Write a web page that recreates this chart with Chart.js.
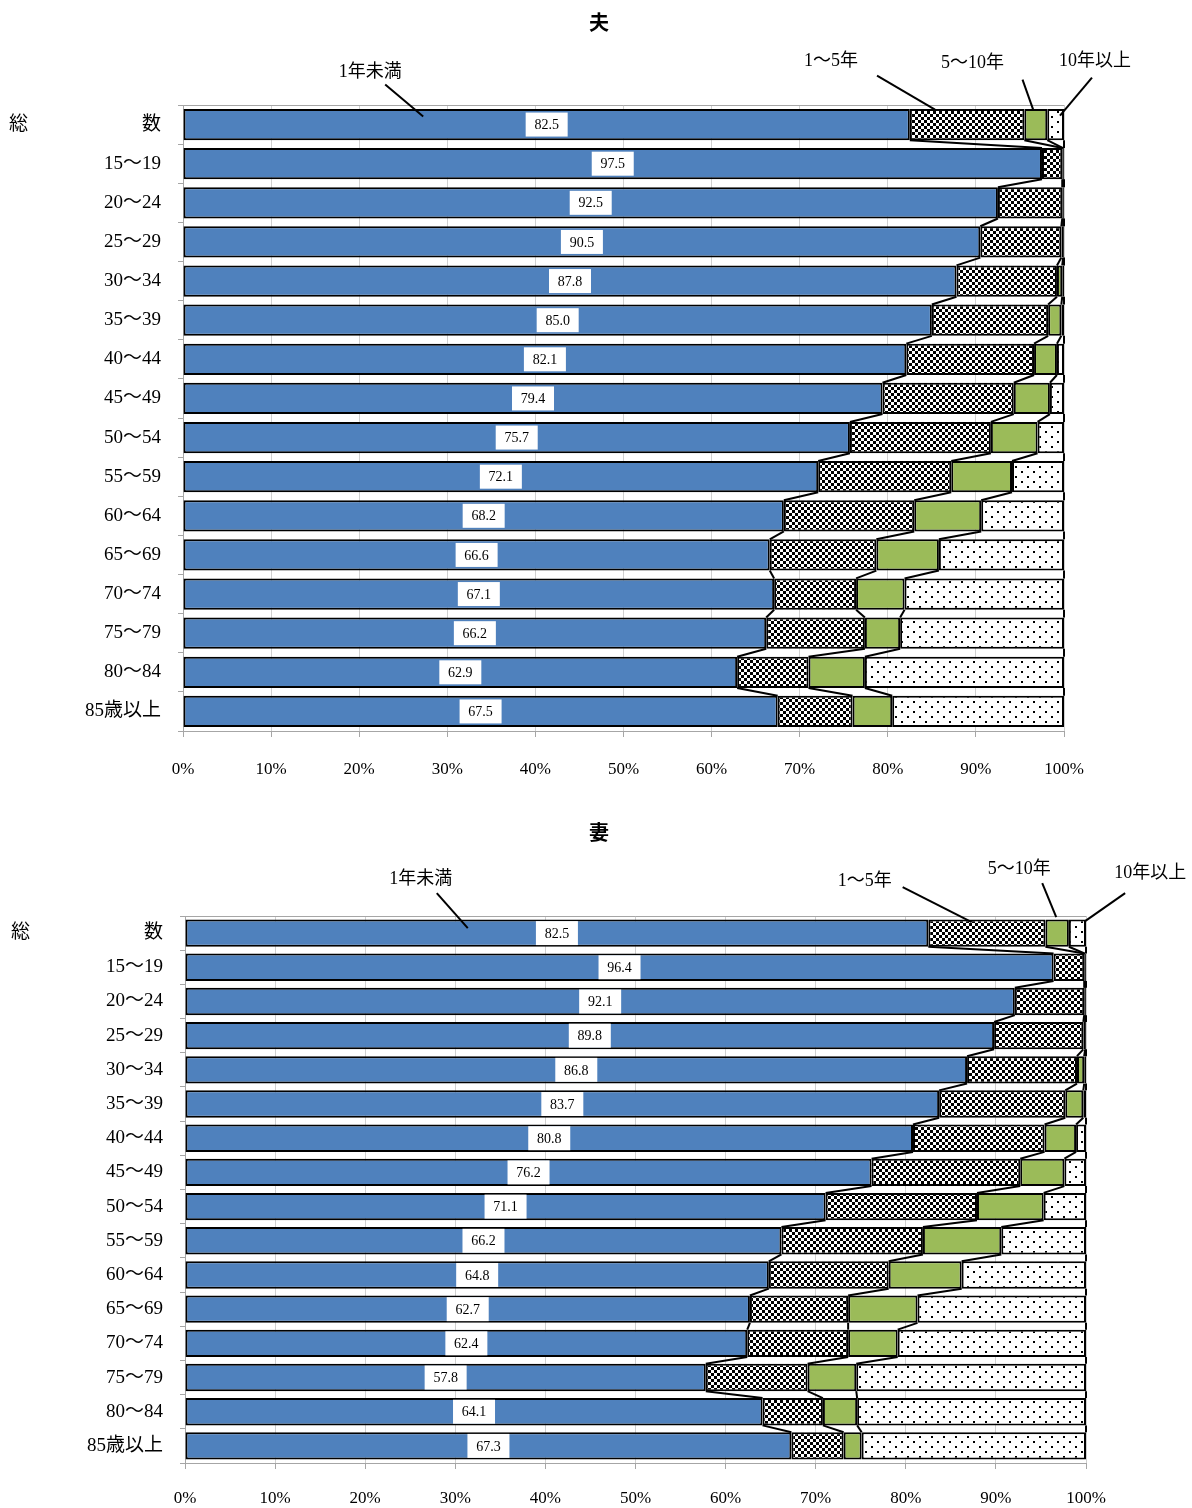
<!DOCTYPE html>
<html>
<head>
<meta charset="utf-8">
<script src="https://cdn.jsdelivr.net/npm/chart.js@4/dist/chart.umd.min.js"></script>
<style>
  body { margin: 0; background: #fff; }
  .box { position: relative; width: 1192px; }
</style>
</head>
<body>
<div class="box" style="height:800px"><canvas id="husbandChart" width="1192" height="800"></canvas></div>
<div class="box" style="height:708px"><canvas id="wifeChart" width="1192" height="708"></canvas></div>
<script>
// data
const categories = ['総　　　　　　数', '15～19', '20～24', '25～29', '30～34', '35～39', '40～44', '45～49',
  '50～54', '55～59', '60～64', '65～69', '70～74', '75～79', '80～84', '85歳以上'];
const seriesNames = ['1年未満', '1～5年', '5～10年', '10年以上'];
const xTicks = [0, 10, 20, 30, 40, 50, 60, 70, 80, 90, 100];

// 夫
const husbandUnder1 = [82.5, 97.5, 92.5, 90.5, 87.8, 85.0, 82.1, 79.4, 75.7, 72.1, 68.2, 66.6, 67.1, 66.2, 62.9, 67.5];
const husband1to5   = [13.0, 2.3, 7.3, 9.2, 11.4, 13.2, 14.5, 14.9, 16.0, 15.1, 14.8, 12.1, 9.3, 11.2, 8.1, 8.5];
const husband5to10  = [2.6, 0.1, 0.1, 0.2, 0.6, 1.5, 2.6, 4.1, 5.3, 6.9, 7.6, 7.1, 5.5, 4.0, 6.4, 4.5];
const husbandOver10 = [1.9, 0.1, 0.1, 0.1, 0.2, 0.3, 0.8, 1.6, 3.0, 5.9, 9.4, 14.2, 18.1, 18.6, 22.6, 19.5];

// 妻
const wifeUnder1 = [82.5, 96.4, 92.1, 89.8, 86.8, 83.7, 80.8, 76.2, 71.1, 66.2, 64.8, 62.7, 62.4, 57.8, 64.1, 67.3];
const wife1to5   = [13.0, 3.4, 7.7, 9.9, 12.2, 14.0, 14.6, 16.5, 16.8, 15.7, 13.3, 10.9, 11.2, 11.3, 6.7, 5.8];
const wife5to10  = [2.6, 0.1, 0.1, 0.2, 0.8, 2.0, 3.5, 4.9, 7.4, 8.7, 8.1, 7.7, 5.5, 5.4, 3.8, 2.0];
const wifeOver10 = [1.9, 0.1, 0.1, 0.1, 0.2, 0.3, 1.1, 2.4, 4.7, 9.4, 13.8, 18.7, 20.9, 25.5, 25.4, 24.9];

const FONT = "'Liberation Serif', 'Noto Sans CJK JP', serif";

// fill patterns
function makeTile(w, h, draw) {
  const c = document.createElement('canvas');
  c.width = w; c.height = h;
  const t = c.getContext('2d');
  t.fillStyle = '#fff';
  t.fillRect(0, 0, w, h);
  t.fillStyle = '#000';
  draw(t);
  return document.createElement('canvas').getContext('2d').createPattern(c, 'repeat');
}
const checkPattern = makeTile(6, 6, t => { t.fillRect(0, 0, 3, 3); t.fillRect(3, 3, 3, 3); });
const dotPattern = makeTile(12, 10, t => { t.fillRect(1, 1, 2, 2); t.fillRect(7, 6, 2, 2); });

// lines joining the segment ends of neighbouring bars
const seriesLines = {
  id: 'seriesLines',
  afterDatasetsDraw(chart) {
    const ctx = chart.ctx;
    ctx.save();
    ctx.strokeStyle = '#000';
    ctx.lineWidth = 2;
    chart.data.datasets.forEach((ds, i) => {
      const bars = chart.getDatasetMeta(i).data;
      for (let j = 0; j < bars.length - 1; j++) {
        const a = bars[j], b = bars[j + 1];
        ctx.beginPath();
        ctx.moveTo(a.x, a.y + a.height / 2);
        ctx.lineTo(b.x, b.y - b.height / 2);
        ctx.stroke();
      }
    });
    // top frame line
    ctx.strokeStyle = '#a6a6a6';
    ctx.lineWidth = 1;
    ctx.beginPath();
    ctx.moveTo(chart.chartArea.left, chart.chartArea.top + 0.5);
    ctx.lineTo(chart.chartArea.right, chart.chartArea.top + 0.5);
    ctx.stroke();
    ctx.restore();
  }
};

// value boxes on the first series
const valueBoxes = {
  id: 'valueBoxes',
  afterDatasetsDraw(chart) {
    const ctx = chart.ctx;
    const ds = chart.data.datasets[0];
    ctx.save();
    ctx.font = '14px ' + FONT;
    ctx.textAlign = 'center';
    ctx.textBaseline = 'middle';
    chart.getDatasetMeta(0).data.forEach((bar, j) => {
      const cx = (bar.x + bar.base) / 2;
      ctx.fillStyle = '#fff';
      ctx.fillRect(cx - 21, bar.y - 12, 42, 24);
      ctx.fillStyle = '#000';
      ctx.fillText(ds.data[j].toFixed(1), cx, bar.y + 1);
    });
    ctx.restore();
  }
};

// series name callouts pointing at the first bar
const callouts = {
  id: 'callouts',
  afterDraw(chart, args, opts) {
    const ctx = chart.ctx;
    ctx.save();
    ctx.font = '18px ' + FONT;
    ctx.textAlign = 'center';
    ctx.textBaseline = 'middle';
    ctx.strokeStyle = '#000';
    ctx.lineWidth = 2;
    (opts.items || []).forEach((it, i) => {
      const bar = chart.getDatasetMeta(i).data[0];
      const ex = bar.base + (bar.x - bar.base) * it.frac;
      const ey = bar.y + it.dy;
      const sx = ex + it.sx, sy = ey + it.sy;
      ctx.beginPath();
      ctx.moveTo(sx, sy);
      ctx.lineTo(ex, ey);
      ctx.stroke();
      ctx.fillStyle = '#000';
      ctx.fillText(chart.data.datasets[i].label, sx + it.lx, sy + it.ly);
    });
    ctx.restore();
  }
};

function buildChart(id, title, series, geo) {
  const ctx = document.getElementById(id).getContext('2d');
  const fills = ['#4f81bd', checkPattern, '#9bbb59', dotPattern];
  return new Chart(ctx, {
    type: 'bar',
    data: {
      labels: categories,
      datasets: series.map((d, i) => ({
        label: seriesNames[i],
        data: d,
        backgroundColor: fills[i],
        borderColor: '#000',
        borderWidth: 2,
        borderSkipped: false,
        barPercentage: 0.8,
        categoryPercentage: 1
      }))
    },
    options: {
      indexAxis: 'y',
      responsive: false,
      animation: false,
      devicePixelRatio: 1,
      layout: { padding: { left: 6, right: 0, top: 0, bottom: 0 } },
      plugins: {
        legend: { display: false },
        tooltip: { enabled: false },
        title: {
          display: true,
          text: title,
          color: '#000',
          font: { family: FONT, size: 20, weight: 'bold' },
          padding: { top: geo.titleTop, bottom: geo.titleBottom }
        },
        callouts: { items: geo.callouts }
      },
      scales: {
        x: {
          stacked: true,
          min: 0,
          max: 100,
          afterBuildTicks: s => { s.ticks = xTicks.map(v => ({ value: v })); },
          afterFit: s => { s.height = geo.xHeight; },
          ticks: {
            callback: v => v + '%',
            color: '#000',
            padding: geo.xPad,
            maxRotation: 0,
            font: { family: FONT, size: 17 }
          },
          grid: { color: '#d0d0d0', tickColor: '#a6a6a6', tickLength: 6 },
          border: { color: '#a6a6a6' }
        },
        y: {
          stacked: true,
          afterFit: s => { s.width = geo.left - 6; },
          ticks: {
            color: '#000',
            padding: 17,
            font: { family: FONT, size: 19 }
          },
          grid: { drawOnChartArea: false, color: '#a6a6a6', tickLength: 5 },
          border: { color: '#a6a6a6' }
        },
        // empty right margin, kept as an axis so the title stays centred on the page
        side: {
          type: 'category',
          position: 'right',
          afterFit: s => { s.width = geo.right; },
          ticks: { display: false },
          grid: { display: false },
          border: { display: false }
        }
      }
    },
    plugins: [seriesLines, valueBoxes, callouts]
  });
}

buildChart('husbandChart', '夫', [husbandUnder1, husband1to5, husband5to10, husbandOver10], {
  left: 183, right: 128, titleTop: 13, titleBottom: 68, xHeight: 69, xPad: 22,
  callouts: [
    { frac: 0.33, dy: -8, sx: -38, sy: -32, lx: -15, ly: -12 },
    { frac: 0.22, dy: -15, sx: -58, sy: -34, lx: -46, ly: -14 },
    { frac: 0.4, dy: -14, sx: -11, sy: -31, lx: -50, ly: -16 },
    { frac: 0.76, dy: -9, sx: 32, sy: -38, lx: 3, ly: -16 }
  ]
});

buildChart('wifeChart', '妻', [wifeUnder1, wife1to5, wife5to10, wifeOver10], {
  left: 185, right: 106, titleTop: 23, titleBottom: 69, xHeight: 45, xPad: 19,
  callouts: [
    { frac: 0.38, dy: -5, sx: -31, sy: -35, lx: -16, ly: -14 },
    { frac: 0.37, dy: -11, sx: -69, sy: -35, lx: -38, ly: -6 },
    { frac: 0.46, dy: -16, sx: -14, sy: -34, lx: -23, ly: -14 },
    { frac: 0.95, dy: -12, sx: 40, sy: -28, lx: 25, ly: -20 }
  ]
});
</script>
</body>
</html>
